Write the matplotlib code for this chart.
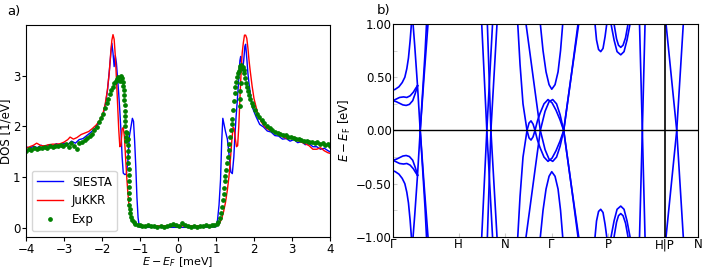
import numpy as np
import matplotlib
matplotlib.use("Agg")
import matplotlib.pyplot as plt

plt.rcParams['font.size'] = 8.5

# ---- panel a: DOS around the gap ----
jukkr_e = [-4.0, -3.9, -3.8, -3.72, -3.6, -3.5, -3.4, -3.3, -3.2, -3.1, -3.0, -2.9, -2.84, -2.75, -2.66,
           -2.55, -2.45, -2.35, -2.25, -2.15, -2.05, -1.98, -1.92, -1.86, -1.81, -1.77, -1.74, -1.71, -1.68,
           -1.65, -1.62, -1.59, -1.56, -1.53, -1.50, -1.47, -1.44, -1.41, -1.38, -1.35, -1.32, -1.29, -1.25,
           -1.2, -1.15, -1.1, -1.05, -1.0, -0.8, -0.5, -0.2, 0.0, 0.2, 0.5, 0.8, 1.0, 1.05, 1.1, 1.15, 1.2,
           1.25, 1.3, 1.34, 1.38, 1.42, 1.45, 1.48, 1.51, 1.54, 1.57, 1.60, 1.63, 1.66, 1.69, 1.72, 1.75,
           1.78, 1.81, 1.84, 1.87, 1.9, 1.95, 2.0, 2.1, 2.2, 2.3, 2.4, 2.5, 2.6, 2.7, 2.8, 2.88, 2.95, 3.05,
           3.15, 3.25, 3.35, 3.45, 3.55, 3.65, 3.75, 3.85, 3.95, 4.0]
jukkr_dos = [1.57, 1.60, 1.63, 1.67, 1.62, 1.62, 1.64, 1.65, 1.65, 1.66, 1.69, 1.74, 1.79, 1.75, 1.78,
             1.84, 1.87, 1.90, 1.96, 2.03, 2.13, 2.24, 2.42, 2.70, 3.05, 3.45, 3.70, 3.81, 3.72,
             3.40, 2.95, 2.45, 1.95, 1.60, 1.62, 1.95, 1.98, 1.80, 1.40, 1.02, 0.70, 0.45, 0.25,
             0.13, 0.08, 0.06, 0.05, 0.05, 0.04, 0.04, 0.04, 0.04, 0.04, 0.04, 0.04, 0.05, 0.06, 0.10, 0.18, 0.32,
             0.50, 0.75, 1.00, 1.35, 1.75, 1.98, 1.95, 1.75, 1.60, 1.62, 2.00, 2.55, 3.05, 3.45, 3.65, 3.80,
             3.80, 3.74, 3.55, 3.30, 3.10, 2.80, 2.55, 2.25, 2.08, 1.98, 1.93, 1.90, 1.87, 1.83, 1.78, 1.76, 1.78, 1.79,
             1.72, 1.69, 1.66, 1.62, 1.55, 1.55, 1.58, 1.52, 1.48, 1.47]

siesta_e = [-4.0, -3.9, -3.8, -3.7, -3.6, -3.5, -3.4, -3.3, -3.2, -3.1, -3.0, -2.9, -2.8, -2.7, -2.6, -2.5,
            -2.4, -2.3, -2.2, -2.1, -2.0, -1.95, -1.9, -1.85, -1.8, -1.76, -1.74, -1.71, -1.68, -1.65, -1.62,
            -1.59, -1.56, -1.53, -1.5, -1.47, -1.44, -1.4, -1.36, -1.32, -1.28, -1.24, -1.2, -1.17, -1.14,
            -1.11, -1.08, -1.05, -1.02, -1.0, -0.5, 0.0, 0.5, 1.0, 1.04, 1.08, 1.12, 1.15, 1.18, 1.21, 1.25,
            1.3, 1.35, 1.39, 1.43, 1.47, 1.5, 1.53, 1.56, 1.6, 1.63, 1.65, 1.68, 1.7, 1.73, 1.76, 1.78, 1.81,
            1.84, 1.87, 1.92, 1.97, 2.05, 2.15, 2.25, 2.35, 2.45, 2.55, 2.65, 2.75, 2.85, 2.95, 3.05, 3.15,
            3.25, 3.35, 3.45, 3.55, 3.65, 3.75, 3.85, 3.95, 4.0]
siesta_dos = [1.60, 1.57, 1.61, 1.58, 1.63, 1.59, 1.64, 1.61, 1.66, 1.62, 1.67, 1.64, 1.71, 1.67, 1.74, 1.76,
              1.82, 1.88, 1.95, 2.05, 2.18, 2.30, 2.48, 2.75, 3.15, 3.50, 3.64, 3.45, 3.18, 3.40, 3.25,
              2.95, 2.65, 2.30, 1.90, 1.40, 1.08, 1.05, 1.06, 1.30, 1.80, 1.98, 2.16, 2.10, 1.70,
              1.20, 0.60, 0.20, 0.03, 0.01, 0.01, 0.01, 0.01, 0.02, 0.15, 0.45, 0.95, 1.70, 2.16, 2.05, 1.90,
              1.75, 1.40, 1.10, 1.07, 1.40, 1.85, 2.20, 2.50, 2.95, 3.30, 3.38, 3.20, 3.10, 3.30, 3.58, 3.62, 3.35,
              3.05, 2.84, 2.55, 2.35, 2.20, 2.04, 1.99, 1.91, 1.89, 1.82, 1.81, 1.75, 1.76, 1.71, 1.74, 1.68,
              1.70, 1.64, 1.66, 1.60, 1.60, 1.55, 1.57, 1.52, 1.50]

exp_e = [-4.00, -3.93, -3.86, -3.79, -3.72, -3.65, -3.58, -3.51, -3.44, -3.37, -3.30, -3.23, -3.16, -3.09,
         -3.02, -2.95, -2.88, -2.81, -2.74, -2.67, -2.60, -2.53, -2.46, -2.39, -2.32, -2.26, -2.20, -2.14,
         -2.08, -2.02, -1.97, -1.92, -1.88, -1.84, -1.80, -1.76, -1.72, -1.68, -1.64, -1.60, -1.57, -1.53,
         -1.50, -1.48, -1.46, -1.44, -1.43, -1.42, -1.41, -1.40, -1.40, -1.39, -1.39, -1.39, -1.38, -1.38,
         -1.37, -1.33, -1.32, -1.32, -1.31, -1.31, -1.31, -1.30, -1.30, -1.30, -1.29, -1.29, -1.28, -1.28,
         -1.27, -1.26, -1.24, -1.21, -1.17, -1.12, -1.06, -1.00,
         -0.94, -0.86, -0.78, -0.70, -0.62, -0.54, -0.46, -0.38, -0.30, -0.22, -0.14, -0.06, 0.02, 0.10,
         0.18, 0.26, 0.34, 0.42, 0.50, 0.58, 0.66, 0.74, 0.82, 0.90, 0.96,
         1.02, 1.06, 1.10, 1.13, 1.16, 1.18, 1.20, 1.22, 1.24, 1.25, 1.27, 1.29, 1.31, 1.33, 1.35, 1.37,
         1.39, 1.41, 1.43, 1.45, 1.47, 1.49, 1.51, 1.53, 1.56, 1.58, 1.60, 1.62, 1.62, 1.63, 1.64, 1.64,
         1.65, 1.66, 1.70, 1.73, 1.75, 1.77, 1.79, 1.81, 1.84, 1.87, 1.90, 1.94, 1.98, 2.03, 2.08, 2.14,
         2.20, 2.27, 2.34, 2.41, 2.48, 2.55, 2.62, 2.69, 2.76, 2.83, 2.90, 2.97, 3.04, 3.11, 3.18, 3.25,
         3.32, 3.39, 3.46, 3.53, 3.60, 3.67, 3.74, 3.81, 3.88, 3.95, 4.00]
exp_dos = [1.52, 1.55, 1.54, 1.57, 1.55, 1.58, 1.57, 1.60, 1.58, 1.61, 1.60, 1.62, 1.61, 1.64,
           1.62, 1.65, 1.60, 1.67, 1.62, 1.56, 1.68, 1.70, 1.74, 1.77, 1.82, 1.86, 1.92, 1.98,
           2.08, 2.16, 2.25, 2.36, 2.46, 2.55, 2.64, 2.72, 2.78, 2.85, 2.90, 2.94, 2.98, 2.90,
           3.00, 2.95, 2.88, 2.80, 2.72, 2.62, 2.52, 2.42, 2.30, 2.20, 2.10, 2.00, 1.90, 1.80,
           1.72, 1.88, 1.76, 1.64, 1.52, 1.40, 1.28, 1.16, 1.04, 0.92, 0.80, 0.68, 0.56, 0.46,
           0.37, 0.29, 0.22, 0.16, 0.11, 0.08, 0.06, 0.05,
           0.04, 0.03, 0.05, 0.03, 0.04, 0.02, 0.03, 0.02, 0.04, 0.05, 0.07, 0.05, 0.04, 0.09,
           0.05, 0.03, 0.02, 0.03, 0.02, 0.04, 0.03, 0.05, 0.04, 0.05, 0.06,
           0.08, 0.12, 0.20, 0.30, 0.42, 0.54, 0.66, 0.78, 0.92, 1.02, 1.14, 1.27, 1.40, 1.53, 1.66, 1.80,
           1.92, 2.05, 2.15, 2.32, 2.50, 2.65, 2.78, 2.88, 2.97, 3.05, 3.10, 3.16, 2.40, 2.55, 2.70, 3.20,
           2.85, 3.22, 3.18, 3.12, 3.05, 2.95, 2.85, 2.78, 2.70, 2.62, 2.55, 2.47, 2.40, 2.32, 2.25, 2.18,
           2.12, 2.06, 2.00, 1.96, 1.92, 1.90, 1.88, 1.86, 1.84, 1.83, 1.80, 1.79, 1.77, 1.75, 1.75, 1.73,
           1.72, 1.72, 1.70, 1.70, 1.68, 1.69, 1.66, 1.67, 1.64, 1.65, 1.62]

# ---- panel b: BdG bands, electron branches (holes are mirrored) ----
k_points = [0.0, 1.0, 1.7071, 2.4142, 3.2802, 4.1463, 4.6463]
k_labels = ['Γ', 'H', 'N', 'Γ', 'P', 'H|P', 'N']

bands = [
    ([0.0, 0.03, 0.09, 0.14, 0.18, 0.21, 0.235, 0.26, 0.28],
     [0.38, 0.385, 0.41, 0.45, 0.50, 0.58, 0.68, 0.84, 1.0]),
    ([0.0, 0.05, 0.10, 0.16, 0.21, 0.26, 0.31, 0.35, 0.373],
     [0.28, 0.295, 0.31, 0.315, 0.31, 0.325, 0.36, 0.40, 0.42]),
    ([0.0, 0.05, 0.10, 0.15, 0.20, 0.25, 0.30, 0.34, 0.373],
     [0.28, 0.27, 0.255, 0.24, 0.235, 0.245, 0.28, 0.35, 0.42]),
    ([0.305, 0.33, 0.355, 0.373], [1.0, 0.80, 0.58, 0.42]),
    ([0.373, 0.414, 0.457, 0.487, 0.510], [0.42, 0.0, -0.42, -0.72, -1.0]),
    ([0.414, 0.472, 0.533], [0.0, 0.5, 1.0]),
    ([1.351, 1.429, 1.516], [1.0, 0.0, -1.0]),
    ([1.437, 1.491, 1.584], [1.0, 0.0, -1.0]),
    ([1.900, 1.935, 1.980, 2.041, 2.072, 2.102, 2.133, 2.163, 2.200, 2.239, 2.300, 2.361, 2.422, 2.483,
      2.544, 2.600, 2.712, 2.818],
     [1.0, 0.62, 0.25, 0.0, -0.07, -0.09, -0.06, 0.0, 0.09, 0.16, 0.25, 0.29, 0.26, 0.19,
      0.10, 0.0, -0.5, -1.0]),
    ([2.026, 2.087, 2.163, 2.244, 2.316, 2.377, 2.433, 2.491, 2.544, 2.600, 2.712, 2.829],
     [-1.0, -0.72, -0.37, 0.0, 0.18, 0.27, 0.29, 0.25, 0.15, 0.0, -0.5, -1.0]),
    ([2.244, 2.285, 2.331, 2.377, 2.418, 2.468, 2.514, 2.552, 2.585],
     [1.0, 0.75, 0.55, 0.43, 0.387, 0.43, 0.55, 0.75, 1.0]),
    ([3.077, 3.100, 3.131, 3.164, 3.199, 3.230, 3.256],
     [1.0, 0.85, 0.76, 0.74, 0.77, 0.88, 1.0]),
    ([3.321, 3.367, 3.413, 3.469, 3.519, 3.565, 3.611],
     [1.0, 0.85, 0.74, 0.71, 0.74, 0.85, 1.0]),
    ([3.367, 3.405, 3.435, 3.469, 3.504, 3.542, 3.580],
     [1.0, 0.86, 0.80, 0.78, 0.80, 0.87, 1.0]),
    ([3.755, 3.798, 3.839], [1.0, 0.0, -1.0]),
    ([4.159, 4.322, 4.422], [1.0, 0.0, -1.0]),
]

fig = plt.figure(figsize=(7.06, 2.68), dpi=100)

ax1 = fig.add_axes([0.0368, 0.1157, 0.4306, 0.791])
ax1.plot(siesta_e, siesta_dos, color='blue', lw=1.0, label='SIESTA')
ax1.plot(jukkr_e, jukkr_dos, color='red', lw=1.0, label='JuKKR')
ax1.plot(exp_e, exp_dos, 'o', color='green', ms=2.4, label='Exp')
ax1.set_xlim(-4, 4)
ax1.set_xticks(range(-4, 5))
ax1.set_yticks([0, 1, 2, 3])
ax1.tick_params(length=3, pad=1)
ax1.set_xlabel('$E-E_F$ [meV]', fontsize=8, labelpad=-0.6)
ax1.set_ylabel('DOS [1/eV]', labelpad=0)
ax1.legend(loc='lower left', handlelength=2.2)

ax2 = fig.add_axes([0.5567, 0.1157, 0.432, 0.795])
for k, e in bands:
    ax2.plot(k, e, color='blue', lw=1.2)
    ax2.plot(k, -np.array(e), color='blue', lw=1.2)
ax2.axhline(0, color='black', lw=1.0)
ax2.axvline(k_points[5], color='black', lw=1.2)
ax2.set_xlim(k_points[0], k_points[-1])
ax2.set_ylim(-1, 1)
ax2.set_xticks(k_points)
ax2.set_xticklabels(k_labels)
ax2.set_yticks([-1.0, -0.5, 0.0, 0.5, 1.0])
ax2.set_yticklabels(['−1.00', '−0.50', '0.00', '0.50', '1.00'])
ax2.set_yticks([-0.75, -0.25, 0.25, 0.75], minor=True)
ax2.tick_params(which='both', direction='in', length=3, color='0.8', pad=1)
ax2.set_ylabel('$E-E_\\mathrm{F}$ [eV]', labelpad=2)

fig.text(0.010, 0.957, 'a)', fontsize=9.5, va='center')
fig.text(0.534, 0.962, 'b)', fontsize=9.5, va='center')

fig.savefig('out.png', dpi=100)
